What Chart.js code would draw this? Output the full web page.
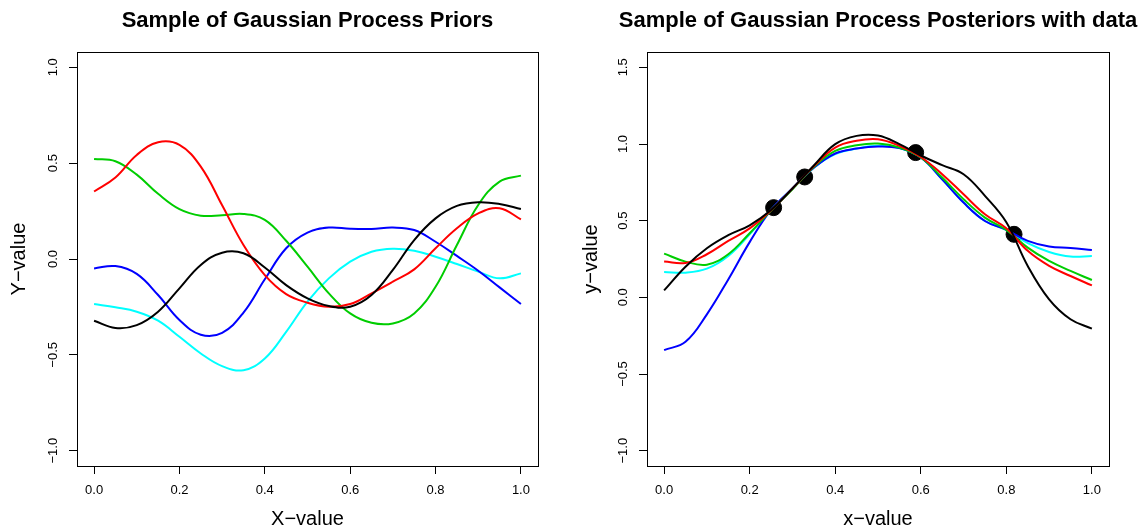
<!DOCTYPE html>
<html>
<head>
<meta charset="utf-8">
<title>Gaussian Process samples</title>
<script src="https://cdn.jsdelivr.net/npm/chart.js@4/dist/chart.umd.min.js"></script>
<style>
  html, body { margin: 0; padding: 0; background: #fff; }
  #wrap { position: relative; width: 1145px; height: 531px; overflow: hidden; }
  .panel { position: absolute; top: 0; height: 531px; }
  .panel canvas { display: block; }
  #priorPanel { left: 0; width: 572px; }
  #postPanel { left: 572px; width: 573px; }
</style>
</head>
<body>
<div id="wrap">
  <div class="panel" id="priorPanel"><canvas id="priorChart" width="572" height="531"></canvas></div>
  <div class="panel" id="postPanel"><canvas id="postChart" width="573" height="531"></canvas></div>
</div>
<script>
// sample grid shared by every curve
const xs = [0, 0.05, 0.1, 0.15, 0.2, 0.25, 0.3, 0.35, 0.4, 0.45, 0.5,
            0.55, 0.6, 0.65, 0.7, 0.75, 0.8, 0.85, 0.9, 0.95, 1];

// left panel: prior draws
const priorBlack = [-0.322, -0.360, -0.345, -0.275, -0.153, -0.031, 0.033, 0.030, -0.044, -0.136, -0.205,
                    -0.245, -0.249, -0.188, -0.057, 0.099, 0.212, 0.277, 0.296, 0.287, 0.261];
const priorRed = [0.352, 0.425, 0.543, 0.609, 0.595, 0.482, 0.280, 0.073, -0.084, -0.183, -0.228,
                  -0.249, -0.235, -0.179, -0.118, -0.054, 0.056, 0.160, 0.238, 0.265, 0.207];
const priorGreen = [0.522, 0.510, 0.440, 0.340, 0.260, 0.226, 0.228, 0.235, 0.204, 0.095, -0.040,
                    -0.179, -0.284, -0.333, -0.336, -0.284, -0.145, 0.073, 0.282, 0.404, 0.435];
const priorBlue = [-0.049, -0.037, -0.078, -0.188, -0.318, -0.395, -0.385, -0.280, -0.106, 0.056, 0.138,
                   0.164, 0.158, 0.157, 0.164, 0.151, 0.090, 0.016, -0.061, -0.148, -0.235];
const priorCyan = [-0.235, -0.252, -0.275, -0.322, -0.406, -0.493, -0.559, -0.580, -0.519, -0.380, -0.222,
                   -0.101, -0.014, 0.038, 0.054, 0.043, 0.012, -0.026, -0.066, -0.101, -0.075];

// right panel: posterior draws and observed data
const postBlack = [0.045, 0.200, 0.320, 0.405, 0.470, 0.570, 0.710, 0.860, 0.999, 1.053, 1.055,
                   0.999, 0.925, 0.862, 0.803, 0.662, 0.490, 0.205, -0.013, -0.143, -0.204];
const postRed = [0.233, 0.224, 0.281, 0.368, 0.450, 0.568, 0.710, 0.855, 0.977, 1.021, 1.031,
                 0.988, 0.915, 0.803, 0.672, 0.542, 0.450, 0.303, 0.205, 0.139, 0.078];
const postGreen = [0.285, 0.233, 0.213, 0.281, 0.418, 0.566, 0.705, 0.850, 0.955, 0.992, 1.003,
                   0.977, 0.912, 0.781, 0.640, 0.520, 0.440, 0.324, 0.237, 0.172, 0.113];
const postBlue = [-0.344, -0.290, -0.111, 0.117, 0.360, 0.570, 0.710, 0.845, 0.938, 0.970, 0.984,
                  0.973, 0.912, 0.770, 0.618, 0.498, 0.440, 0.368, 0.331, 0.322, 0.309];
const postCyan = [0.165, 0.161, 0.187, 0.270, 0.411, 0.570, 0.710, 0.845, 0.934, 0.970, 0.988,
                  0.973, 0.912, 0.770, 0.618, 0.498, 0.440, 0.353, 0.296, 0.266, 0.270];
const obsX = [0.256, 0.3286, 0.588, 0.818];
const obsY = [0.585, 0.785, 0.944, 0.411];

const xTicks = [0, 0.2, 0.4, 0.6, 0.8, 1];
const priorYTicks = [-1, -0.5, 0, 0.5, 1];
const postYTicks = [-1, -0.5, 0, 0.5, 1, 1.5];

const FONT = '"Liberation Sans", Arial, Helvetica, sans-serif';
Chart.defaults.font.family = FONT;
Chart.defaults.color = '#000';

const fmt = v => v.toFixed(1).replace('-', '\u2212');

// box round the plot region + main title, R style
const frame = {
  id: 'frame',
  afterDraw(chart, args, opts) {
    const { ctx, chartArea: a } = chart;
    ctx.save();
    ctx.strokeStyle = '#000';
    ctx.lineWidth = 1;
    ctx.strokeRect(a.left + 0.5, a.top + 0.5, a.right - a.left, a.bottom - a.top);
    ctx.fillStyle = '#000';
    ctx.font = 'bold 22px ' + FONT;
    ctx.textAlign = 'center';
    ctx.textBaseline = 'alphabetic';
    ctx.fillText(opts.text, (a.left + a.right) / 2, 27);
    ctx.restore();
  }
};

function curve(ys, color) {
  return {
    data: xs.map((x, i) => ({ x, y: ys[i] })),
    borderColor: color,
    borderWidth: 2,
    pointRadius: 0,
    tension: 0.4,
    fill: false
  };
}

function makeChart(el, cfg) {
  return new Chart(el, {
    type: 'line',
    data: { datasets: cfg.datasets },
    plugins: [frame],
    options: {
      responsive: false,
      animation: false,
      events: [],
      layout: { padding: { top: 52, right: cfg.padRight, left: 0, bottom: 0 } },
      plugins: {
        legend: { display: false },
        tooltip: { enabled: false },
        frame: { text: cfg.title }
      },
      scales: {
        x: {
          type: 'linear',
          min: -0.04,
          max: 1.04,
          afterBuildTicks: s => { s.ticks = xTicks.map(v => ({ value: v })); },
          afterFit: s => { s.height = 65; },
          border: { display: false },
          grid: { drawOnChartArea: false, drawTicks: true, tickLength: 8, color: '#000' },
          ticks: { font: { size: 13 }, padding: 9, maxRotation: 0, callback: fmt },
          title: { display: true, text: cfg.xLabel, font: { size: 20 }, padding: { top: 0, bottom: 0 } }
        },
        y: {
          type: 'linear',
          min: cfg.yMin,
          max: cfg.yMax,
          afterBuildTicks: s => { s.ticks = cfg.yTicks.map(v => ({ value: v })); },
          afterFit: s => { s.width = cfg.yWidth; },
          border: { display: false },
          grid: { drawOnChartArea: false, drawTicks: true, tickLength: 8, color: '#000' },
          ticks: { font: { size: 13 }, padding: 3, minRotation: 90, maxRotation: 90, crossAlign: 'center', callback: fmt },
          title: { display: true, text: cfg.yLabel, font: { size: 20 }, padding: { top: 7, bottom: 0 } }
        }
      }
    }
  });
}

makeChart(document.getElementById('priorChart'), {
  title: 'Sample of Gaussian Process Priors',
  xLabel: 'X\u2212value',
  yLabel: 'Y\u2212value',
  yMin: -1.08, yMax: 1.08,
  yTicks: priorYTicks,
  yWidth: 77,
  padRight: 34,
  datasets: [
    curve(priorBlack, '#000000'),
    curve(priorRed, '#FF0000'),
    curve(priorGreen, '#00CD00'),
    curve(priorBlue, '#0000FF'),
    curve(priorCyan, '#00FFFF')
  ]
});

makeChart(document.getElementById('postChart'), {
  title: 'Sample of Gaussian Process Posteriors with data',
  xLabel: 'x\u2212value',
  yLabel: 'y\u2212value',
  yMin: -1.1, yMax: 1.6,
  yTicks: postYTicks,
  yWidth: 75,
  padRight: 36,
  datasets: [
    curve(postBlack, '#000000'),
    curve(postRed, '#FF0000'),
    curve(postGreen, '#00CD00'),
    curve(postBlue, '#0000FF'),
    curve(postCyan, '#00FFFF'),
    {
      type: 'scatter',
      data: obsX.map((x, i) => ({ x, y: obsY[i] })),
      backgroundColor: '#000',
      borderColor: '#000',
      pointRadius: 8,
      showLine: false
    }
  ]
});
</script>
</body>
</html>
